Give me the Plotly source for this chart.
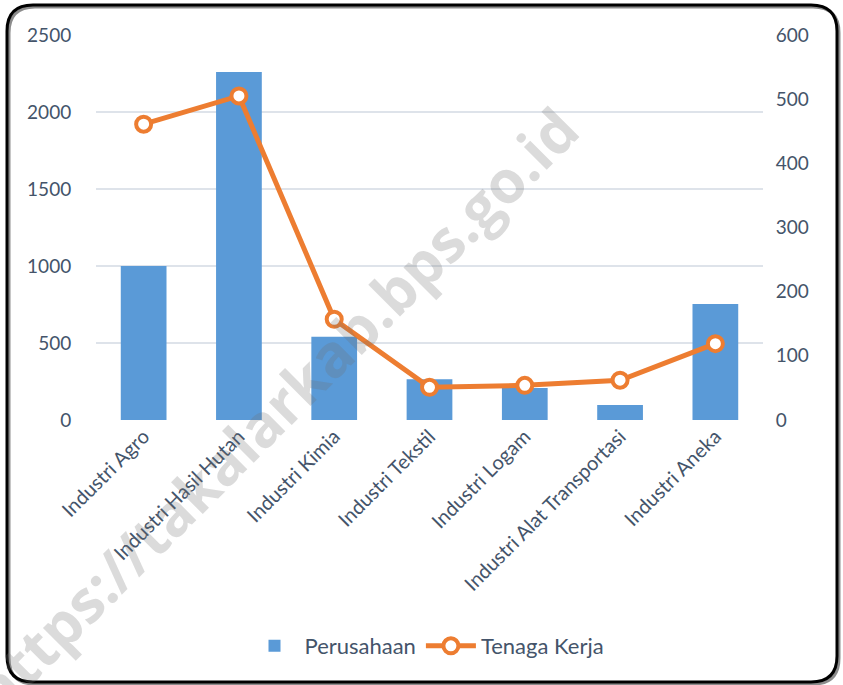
import plotly.graph_objects as go

categories = ["Industri Agro", "Industri Hasil Hutan", "Industri Kimia", "Industri Tekstil",
              "Industri Logam", "Industri Alat Transportasi", "Industri Aneka"]
perusahaan = [1000, 2260, 540, 265, 208, 97, 753]
tenaga_kerja = [461, 505, 157, 51, 54, 62, 119]
left_ticks = [0, 500, 1000, 1500, 2000, 2500]
right_ticks = [0, 100, 200, 300, 400, 500, 600]

W, H = 843, 685
ML, MR, MT, MB = 96, 80, 35, 265
PW, PH = W - ML - MR, H - MT - MB
FONT = "Lato, Open Sans, sans-serif"
TXT = "#44546A"

fig = go.Figure()
fig.add_trace(go.Bar(
    x=categories, y=perusahaan, name="Perusahaan",
    marker=dict(color="#5A9AD7", line=dict(width=0)),
    yaxis="y"))
fig.add_trace(go.Scatter(
    x=categories, y=tenaga_kerja, name="Tenaga Kerja", yaxis="y2",
    mode="lines+markers",
    line=dict(color="#ED7D31", width=5),
    marker=dict(symbol="circle", size=15, color="white",
                line=dict(color="#ED7D31", width=4))))

def px2paper_x(p):
    return (p - ML) / PW

def px2paper_y(p):
    return (H - MB - p) / PH

def rounded_rect(x0, y0, x1, y1, r):
    rx = r / PW
    ry = r / PH
    X0, X1 = px2paper_x(x0), px2paper_x(x1)
    Yt, Yb = px2paper_y(y0), px2paper_y(y1)
    return (f"M {X0+rx},{Yt} L {X1-rx},{Yt} Q {X1},{Yt} {X1},{Yt-ry} "
            f"L {X1},{Yb+ry} Q {X1},{Yb} {X1-rx},{Yb} "
            f"L {X0+rx},{Yb} Q {X0},{Yb} {X0},{Yb+ry} "
            f"L {X0},{Yt-ry} Q {X0},{Yt} {X0+rx},{Yt} Z")

shapes = [
    dict(type="path", xref="paper", yref="paper", path=rounded_rect(9, 7, 839, 684, 26),
         line=dict(color="rgba(0,0,0,0.45)", width=3), layer="below"),
    dict(type="path", xref="paper", yref="paper", path=rounded_rect(7, 5, 837, 682, 26),
         line=dict(color="black", width=3), layer="below"),
]

annotations = [dict(
    text="<b>https://takalarkab.bps.go.id</b>", xref="paper", yref="paper",
    x=px2paper_x(274), y=px2paper_y(410), xanchor="center", yanchor="middle",
    showarrow=False, textangle=-45,
    font=dict(family="Open Sans, sans-serif", size=59, color="rgba(110,110,110,0.25)"))]

fig.update_layout(
    width=W, height=H,
    margin=dict(l=ML, r=MR, t=MT, b=MB, autoexpand=False),
    paper_bgcolor="white", plot_bgcolor="white",
    font=dict(family=FONT, color=TXT),
    bargap=0.52,
    showlegend=True,
    legend=dict(orientation="h", x=px2paper_x(427), xanchor="center", y=px2paper_y(646),
                yanchor="middle", font=dict(size=22, color=TXT), traceorder="normal",
                itemwidth=50),
    xaxis=dict(tickangle=-45, tickfont=dict(size=20, color=TXT), showgrid=False,
               showline=False, ticks="", automargin=False),
    yaxis=dict(range=[0, 2500], tickvals=left_ticks, tickfont=dict(size=19, color=TXT),
               gridcolor="#DEE3EA", gridwidth=1.5, zeroline=False, showline=False,
               ticks="outside", ticklen=20, tickcolor="rgba(0,0,0,0)", automargin=False),
    yaxis2=dict(range=[0, 600], tickvals=right_ticks, overlaying="y", side="right",
                tickfont=dict(size=19, color=TXT), showgrid=False, zeroline=False,
                showline=False, ticks="outside", ticklen=8, tickcolor="rgba(0,0,0,0)",
                automargin=False),
    shapes=shapes,
    annotations=annotations,
)

fig.write_html("out.html", config={"displayModeBar": False},
               post_script="document.body.style.margin='0';document.body.style.overflow='hidden';")
